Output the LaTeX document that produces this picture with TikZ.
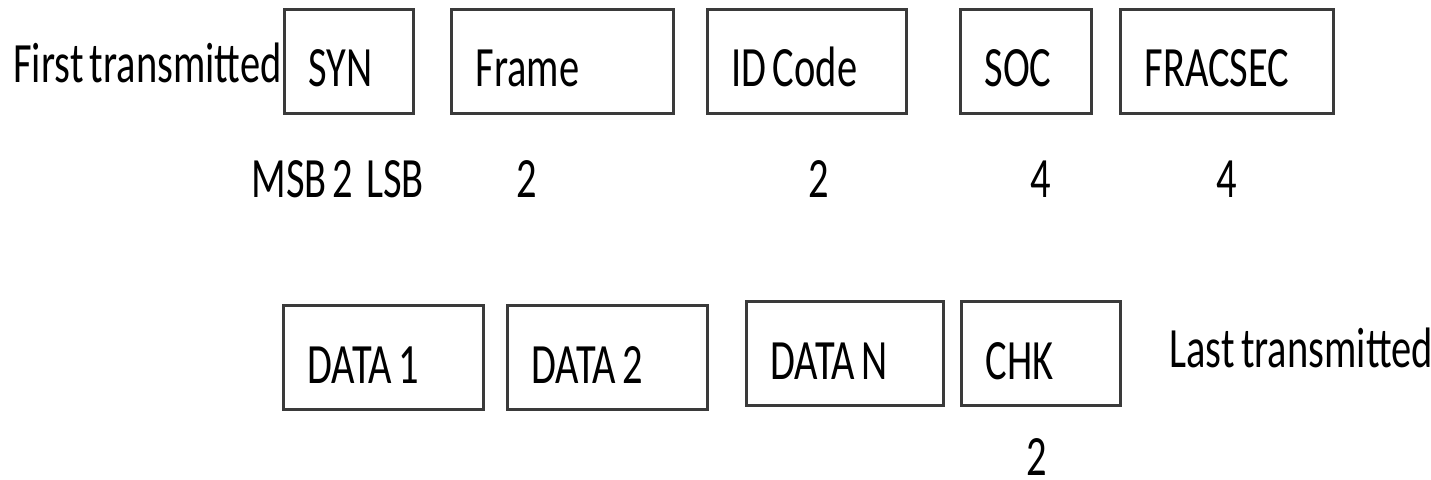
\documentclass[tikz,border=0pt]{standalone}
\usepackage{fontspec}
\setmainfont{Carlito}[FakeStretch=0.71, WordSpace=0.7]
\usepackage{tikz}
\usetikzlibrary{positioning}
\definecolor{fieldgray}{HTML}{3A3A3A}

\begin{document}
\begin{tikzpicture}[
  x=0.5pt, y=-0.5pt,
  font=\fontsize{28.5}{31}\selectfont,
  field/.style={draw=fieldgray, line width=1.5pt, minimum height=52pt,
    inner xsep=12pt, inner ysep=0pt, outer sep=0pt, align=flush left,
    text height=25.5pt, text depth=0pt},
  note/.style={inner sep=0pt, anchor=base west},
  size/.style={inner sep=0pt, anchor=base}
]
\useasboundingbox (0,0) rectangle (1431,480);

\node[field, text width=40.5pt] (syn) at (349,61.5) {SYN};
\node[field, text width=87pt, right=19pt of syn] (frame) {Frame};
\node[field, text width=75.5pt, right=17pt of frame] (idcode) {ID Code};
\node[field, text width=41.5pt, right=27pt of idcode] (soc) {SOC};
\node[field, text width=82.5pt, right=14.5pt of soc] (fracsec) {FRACSEC};

\node[field, text width=76pt] (data1) at (383.5,358) {DATA 1};
\node[field, text width=76pt, right=12pt of data1] (data2) {DATA 2};
\node[field, text width=74.5pt, right=19.5pt of data2, yshift=2pt] (datan) {DATA N};
\node[field, text width=55.5pt, right=9pt of datan] (chk) {CHK};

\node[note] (first) at (13,83) {First transmitted};
\node[note] (last) at (1169,368) {Last transmitted};

\node[note] (synsize) at (251,198) {MSB 2~~LSB};
\node[size] (framesize) at (526.5,198) {2};
\node[size] (idsize) at (819,198) {2};
\node[size] (socsize) at (1041,198) {4};
\node[size] (fracsize) at (1226.5,198) {4};
\node[size] (chksize) at (1037,476) {2};
\end{tikzpicture}
\end{document}
